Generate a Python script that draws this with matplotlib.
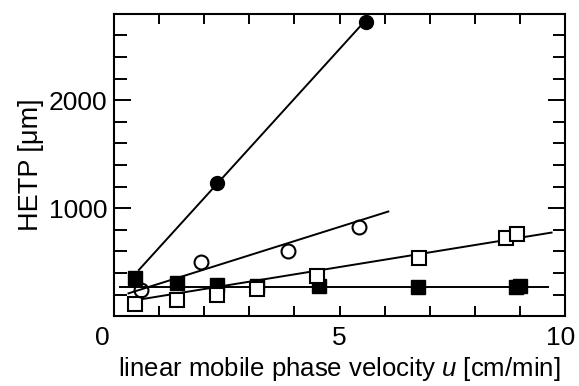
import numpy as np
import matplotlib
matplotlib.use('Agg')
import matplotlib.pyplot as plt
import matplotlib.transforms as mtransforms

plt.rcParams['font.family'] = ['Liberation Sans', 'DejaVu Sans']
plt.rcParams['mathtext.fontset'] = 'custom'
plt.rcParams['mathtext.rm'] = 'Liberation Sans'
plt.rcParams['mathtext.it'] = 'Liberation Sans:italic'

# filled circles
fc_x = [2.28, 5.58]
fc_y = [1236, 2726]
# open circles
oc_x = [0.60, 1.92, 3.86, 5.42]
oc_y = [242, 505, 600, 826]
# open squares
os_x = [0.47, 1.39, 2.29, 3.16, 4.51, 6.75, 8.68, 8.94]
os_y = [112, 149, 195, 248, 372, 536, 722, 759]
# filled squares
fs_x = [0.47, 1.39, 2.29, 3.16, 4.55, 6.73, 8.92, 9.0]
fs_y = [350, 304, 290, 280, 279, 272, 266, 278]

# fitted lines: (x start, x end, slope, intercept)
fits = [
    (0.55, 5.58, 460, 175),
    (0.32, 6.08, 131.6, 169),
    (0.39, 9.70, 67.9, 115.5),
    (0.13, 9.61, 0.0, 267),
]

fig = plt.figure(figsize=(5.79, 3.86), dpi=100)
ax = fig.add_axes([0.197, 0.181, 0.779, 0.783])

for x0, x1, k, b in fits:
    xx = np.array([x0, x1])
    ax.plot(xx, k * xx + b, color='black', lw=1.4, zorder=2)

ms = 9.5
ax.plot(fs_x, fs_y, 's', color='black', ms=ms, zorder=3)
ax.plot(os_x, os_y, 's', mfc='white', mec='black', mew=1.5, ms=ms, zorder=4)
ax.plot(oc_x, oc_y, 'o', mfc='none', mec='black', mew=1.5, ms=ms + 0.5, zorder=4)
ax.plot(fc_x, fc_y, 'o', color='black', ms=ms + 0.5, zorder=4)

ax.set_xlim(0, 10)
ax.set_ylim(0, 2800)
ax.set_xticks([0, 5, 10])
ax.set_xticks(np.arange(0, 11, 1), minor=True)
ax.set_yticks([1000, 2000])
ax.set_yticklabels(['1000', '2000'])
ax.set_yticks(np.arange(0, 2801, 200), minor=True)

ax.tick_params(which='both', direction='in', top=True, right=True, width=1.4)
ax.tick_params(axis='x', which='both', length=7, labelsize=19, pad=7)
ax.tick_params(axis='y', which='major', length=12, labelsize=19, pad=5)
ax.tick_params(axis='y', which='minor', length=9)

for s in ax.spines.values():
    s.set_linewidth(1.5)

ax.set_xlabel(r'linear mobile phase velocity $\it{u}$ [cm/min]', fontsize=18.5, labelpad=4)
ax.set_ylabel('HETP [μm]', fontsize=19.5, labelpad=3)

# the "0" label sits a little left of the axis corner
t0 = ax.xaxis.get_major_ticks()[0]
t0.label1.set_transform(t0.label1.get_transform() +
                        mtransforms.ScaledTranslation(-12 / 100, 0, fig.dpi_scale_trans))
t10 = ax.xaxis.get_major_ticks()[2]
t10.label1.set_transform(t10.label1.get_transform() +
                         mtransforms.ScaledTranslation(-4 / 100, 0, fig.dpi_scale_trans))

fig.savefig('out.png', dpi=100)
